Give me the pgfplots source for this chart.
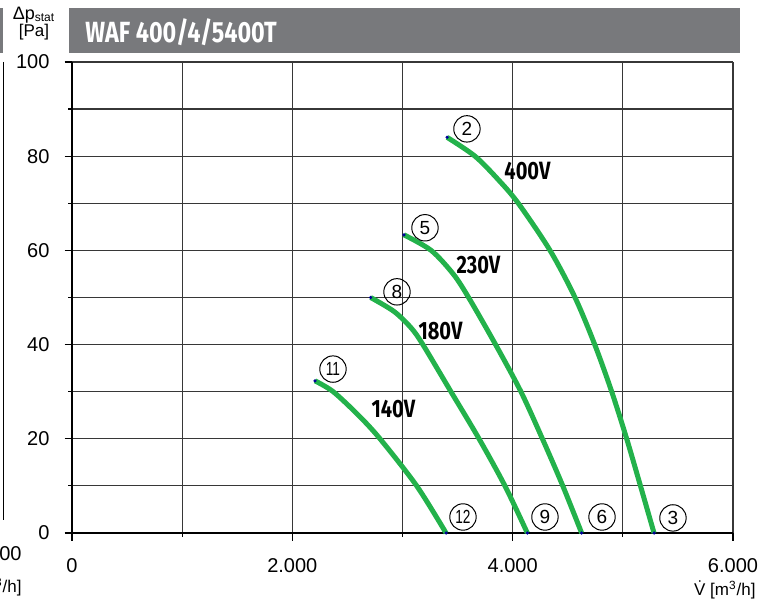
\documentclass[border=0pt]{standalone}
\usepackage{graphicx}
\usepackage{pgfplots}
\pgfplotsset{compat=1.18}
\usepackage{fontspec}
\setmainfont{Liberation Sans}
\newfontfamily\condfont[FakeStretch=0.8]{Fira Sans}
\definecolor{curvegreen}{RGB}{35,178,75}
\definecolor{barGrey}{RGB}{120,121,124}
\definecolor{gridc}{RGB}{55,55,55}
\begin{document}
\begin{tikzpicture}
\useasboundingbox (0,0) rectangle (387pt,299pt);
\clip (0,0) rectangle (387pt,299pt);
\begin{scope}[x=0.5pt,y=-0.5pt,yshift=299pt]
  \fill[barGrey] (69,8) rectangle (740,53);
  \node[anchor=west, text=white, font=\condfont\bfseries\fontsize{14.6}{15}\selectfont, inner sep=0pt] at (85,32.5) {WAF 400/4/5400T};
  \fill[barGrey] (-10,8) rectangle (3,53);
  \draw[line width=0.8pt] (3.5,62) -- (3.5,520);
  \node[anchor=east, inner sep=0pt, font=\fontsize{10}{11}\selectfont] at (22,554) {6.000};
  \node[anchor=east, inner sep=0pt, font=\fontsize{8.5}{10}\selectfont] at (22,587) {\.{V} [m\textsuperscript{3}/h]};
  \node[inner sep=0pt, font=\fontsize{9}{10}\selectfont] at (34,15) {Δp\textsubscript{stat}};
  \node[inner sep=0pt, font=\fontsize{8.5}{10}\selectfont] at (34,32) {[Pa]};
  \node[anchor=east, inner sep=0pt, font=\fontsize{8.5}{10}\selectfont] at (756,590) {\.{V} [m\textsuperscript{3}/h]};
\end{scope}
\begin{axis}[
  at={(36pt,32.5pt)}, anchor=south west,
  scale only axis, width=330.5pt, height=235.5pt,
  xmin=0, xmax=6000, ymin=0, ymax=100,
  xtick={0,2000,4000,6000}, xticklabels={0,2.000,4.000,6.000},
  minor xtick={1000,3000,5000},
  ytick={0,20,40,60,80,100}, minor ytick={10,30,50,70,90},
  grid=both,
  major grid style={gridc, line width=0.6pt},
  minor grid style={gridc, line width=0.6pt},
  axis lines=left, axis line style={-, line width=1.1pt, black},
  tick align=outside,
  major tick length=3.75pt, minor tick length=2pt,
  every tick/.style={black, line width=0.6pt},
  ticklabel style={font=\fontsize{10}{11}\selectfont},
  /pgf/number format/assume math mode=true,
  xticklabel style={yshift=-5.5pt},
  yticklabel style={xshift=-4pt},
  clip=false,
]
\addplot[curvegreen, line width=2.5pt, smooth] coordinates {
 (3405,84) (3658,80) (3870,75) (4051,70) (4339,60) (4566,50) (4745,40) (4899,30) (5035,20) (5160,10) (5283,0)};
\addplot[curvegreen, line width=2.5pt, smooth] coordinates {
 (3013,63.3) (3260,60) (3460,55) (3600,50) (3845,40) (4075,30) (4270,20) (4455,10) (4626,0)};
\addplot[curvegreen, line width=2.5pt, smooth] coordinates {
 (2711,50.0) (2925,47) (3080,43.5) (3185,40) (3440,30) (3695,20) (3930,10) (4133,0)};
\addplot[curvegreen, line width=2.5pt, smooth] coordinates {
 (2206,32.3) (2371,30) (2600,25) (2796,20) (3129,10) (3395,0)};
\addplot[only marks, mark=*, mark size=0.6pt, blue!60!black] coordinates {
 (3405,84) (5283,0) (3013,63.3) (4626,0) (2711,50.0) (4133,0) (2206,32.3) (3395,0)};
\node[font=\condfont\bfseries\fontsize{12.5}{12.5}\selectfont] at (axis cs:4135,76.9) {400V};
\node[font=\condfont\bfseries\fontsize{12.5}{12.5}\selectfont] at (axis cs:3690,56.9) {230V};
\node[font=\condfont\bfseries\fontsize{12.5}{12.5}\selectfont] at (axis cs:3345,42.9) {180V};
\node[font=\condfont\bfseries\fontsize{12.5}{12.5}\selectfont] at (axis cs:2918,26.3) {140V};
\tikzset{cnum/.style={circle, draw, line width=0.5pt, minimum size=13.2pt, inner sep=0pt, font=\fontsize{9.5}{10}\selectfont}}
\node[cnum] at (axis cs:3585,85.8) {2};
\node[cnum] at (axis cs:3204,64.8) {5};
\node[cnum] at (axis cs:2950,51.2) {8};
\node[cnum] at (axis cs:2369,34.8) {\scalebox{0.72}[1]{11}};
\node[cnum] at (axis cs:3549,3.4) {\scalebox{0.72}[1]{12}};
\node[cnum] at (axis cs:4293,3.4) {9};
\node[cnum] at (axis cs:4811,3.4) {6};
\node[cnum] at (axis cs:5455,3.2) {3};
\end{axis}
\end{tikzpicture}
\end{document}
